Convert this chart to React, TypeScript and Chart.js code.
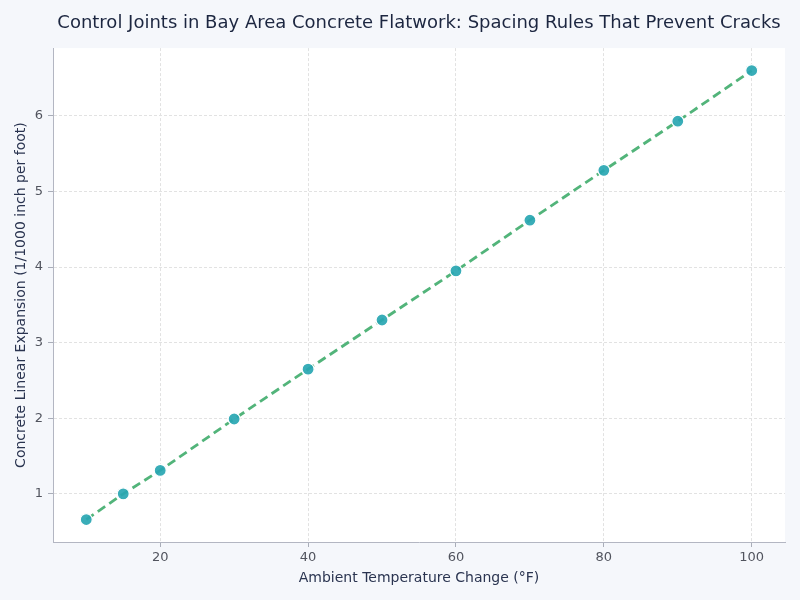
import { useEffect, useRef } from "react";
import { Chart, registerables } from "chart.js";

Chart.register(...registerables);

// temperature change (°F) and linear expansion (1/1000 in per ft)
const tempChange = [10, 15, 20, 30, 40, 50, 60, 70, 80, 90, 100];
const expansion = [0.66, 1.0, 1.31, 1.99, 2.65, 3.3, 3.95, 4.62, 5.28, 5.93, 6.6];

const FONT = "'DejaVu Sans', sans-serif";

// 5% margin around the data, like the source plot
const pad = (arr: number[]) => {
  const lo = Math.min(...arr);
  const hi = Math.max(...arr);
  const m = (hi - lo) * 0.05;
  return [lo - m, hi + m];
};

export default function App() {
  const chartRef = useRef<HTMLCanvasElement>(null);

  useEffect(() => {
    if (!chartRef.current) return;
    const ctx = chartRef.current.getContext("2d");
    if (!ctx) return;

    const [xMin, xMax] = pad(tempChange);
    const [yMin, yMax] = pad(expansion);

    const bgPlugin = {
      id: "bg",
      beforeDraw(chart: any) {
        const c = chart.ctx;
        const a = chart.chartArea;
        c.save();
        c.fillStyle = "#f5f7fb";
        c.fillRect(0, 0, chart.width, chart.height);
        c.fillStyle = "#ffffff";
        c.fillRect(a.left, a.top, a.right - a.left, a.bottom - a.top);
        c.restore();
      },
    };

    const myChart = new Chart(ctx, {
      type: "scatter",
      data: {
        datasets: [
          {
            data: tempChange.map((t, i) => ({ x: t, y: expansion[i] })),
            showLine: true,
            borderColor: "#52b47a",
            borderWidth: 2.8,
            borderDash: [9, 5],
            pointRadius: 6,
            pointHoverRadius: 6,
            pointBackgroundColor: "rgba(40,166,178,0.92)",
            pointBorderColor: "#ffffff",
            pointBorderWidth: 1.2,
          },
        ],
      },
      options: {
        responsive: false,
        animation: false,
        layout: { padding: { top: 0, right: 15, bottom: 0, left: 0 } },
        plugins: {
          legend: { display: false },
          tooltip: { enabled: false },
          title: {
            display: true,
            fullSize: false,
            text: "Control Joints in Bay Area Concrete Flatwork: Spacing Rules That Prevent Cracks",
            color: "#1c2640",
            font: { family: FONT, size: 18, weight: "normal" },
            padding: { top: 13, bottom: 13.5 },
          },
        },
        scales: {
          x: {
            type: "linear",
            min: xMin,
            max: xMax,
            afterFit(scale: any) {
              scale.height = 58;
            },
            ticks: {
              stepSize: 20,
              includeBounds: false,
              color: "#51545e",
              font: { family: FONT, size: 13 },
              padding: 3,
              maxRotation: 0,
            },
            grid: {
              color: "#e2e2e2",
              tickColor: "#a9adb8",
              tickLength: 5,
              tickBorderDash: [],
            },
            border: { color: "#b3b6c2", width: 1, dash: [3, 2] },
            title: {
              display: true,
              text: "Ambient Temperature Change (°F)",
              color: "#2a3450",
              font: { family: FONT, size: 14 },
              padding: { top: 4, bottom: 13 },
            },
          },
          y: {
            type: "linear",
            min: yMin,
            max: yMax,
            afterFit(scale: any) {
              scale.width = 53;
            },
            ticks: {
              stepSize: 1,
              includeBounds: false,
              color: "#51545e",
              font: { family: FONT, size: 13 },
              padding: 5,
            },
            grid: {
              color: "#e2e2e2",
              tickColor: "#a9adb8",
              tickLength: 5,
              tickBorderDash: [],
            },
            border: { color: "#b3b6c2", width: 1, dash: [3, 2] },
            title: {
              display: true,
              text: "Concrete Linear Expansion (1/1000 inch per foot)",
              color: "#2a3450",
              font: { family: FONT, size: 14 },
              padding: { top: 13, bottom: 0 },
            },
          },
        },
      } as any,
      plugins: [bgPlugin],
    });

    return () => {
      myChart.destroy();
    };
  }, []);

  return (
    <div style={{ position: "fixed", left: 0, top: 0, width: 800, height: 600, background: "#f5f7fb" }}>
      <canvas ref={chartRef} width={800} height={600} style={{ width: 800, height: 600 }} />
    </div>
  );
}
